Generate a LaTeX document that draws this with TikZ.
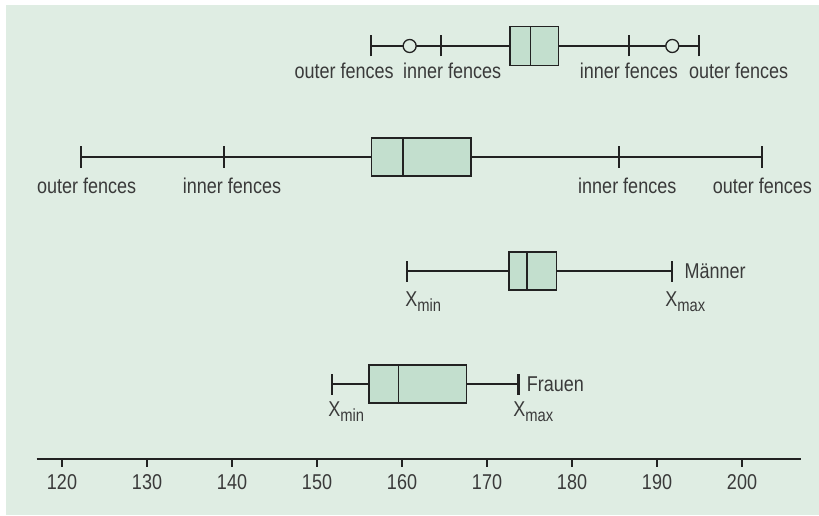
\documentclass[tikz,border=0pt]{standalone}
\usepackage{fontspec}
\setmainfont{Liberation Sans}[FakeStretch=0.84]
\definecolor{bg}{HTML}{DFEDE3}
\definecolor{boxfill}{HTML}{C3DFCE}
\definecolor{ink}{HTML}{222222}
\definecolor{txt}{HTML}{3A3A3A}
\newcommand{\lowidx}[1]{\raisebox{-2.6pt}{\fontsize{10}{12}\selectfont #1}}

\begin{document}
\begin{tikzpicture}[
		x=0.17cm, y=1cm,
		every node/.style={inner sep=0pt, text=txt, font=\fontsize{12.2}{14}\selectfont},
		whisker/.style={draw=ink, line width=1.1pt},
		fence/.style={draw=ink, line width=1.2pt},
		qbox/.style={draw=ink, line width=0.75pt, fill=boxfill},
		median/.style={draw=ink, line width=0.95pt},
		outlier/.style={circle, draw=ink, line width=0.75pt, fill=bg, minimum size=0.26cm}
	]
  \useasboundingbox (112.706,0) rectangle (209.06,10.3);
  \fill[bg] (113.41,0) rectangle (209.06,10.2);

  % outer and inner fences, upper sample
  \coordinate (a_of1) at (156.3,9.38);
  \coordinate (a_if1) at (164.6,9.38);
  \coordinate (a_q1) at (172.7,9.38);
  \coordinate (a_md) at (175.1,9.38);
  \coordinate (a_q3) at (178.4,9.38);
  \coordinate (a_if2) at (186.7,9.38);
  \coordinate (a_of2) at (194.9,9.38);
  \draw[whisker] (a_of1) -- (a_of2);
  \foreach \c in {a_of1,a_if1,a_if2,a_of2}
    \draw[fence] ([yshift=-0.21cm]\c) -- ([yshift=0.21cm]\c);
  \draw[qbox] ([yshift=-0.39cm]a_q1) rectangle ([yshift=0.39cm]a_q3);
  \draw[median] ([yshift=-0.39cm]a_md) -- ([yshift=0.39cm]a_md);
  \node (a_out1) [outlier] at (160.9,9.38) {};
  \node (a_out2) [outlier] at (191.8,9.38) {};
  \node (a_lab1) [anchor=base] at (153.2,8.73) {outer fences};
  \node (a_lab2) [anchor=base] at (165.9,8.73) {inner fences};
  \node (a_lab3) [anchor=base] at (186.7,8.73) {inner fences};
  \node (a_lab4) [anchor=base] at (199.6,8.73) {outer fences};

  % outer and inner fences, lower sample
  \coordinate (b_of1) at (122.2,7.16);
  \coordinate (b_if1) at (139.1,7.16);
  \coordinate (b_q1) at (156.4,7.16);
  \coordinate (b_md) at (160.1,7.16);
  \coordinate (b_q3) at (168.1,7.16);
  \coordinate (b_if2) at (185.5,7.16);
  \coordinate (b_of2) at (202.4,7.16);
  \draw[whisker] (b_of1) -- (b_of2);
  \foreach \c in {b_of1,b_if1,b_if2,b_of2}
    \draw[fence] ([yshift=-0.21cm]\c) -- ([yshift=0.21cm]\c);
  \draw[qbox] ([yshift=-0.38cm]b_q1) rectangle ([yshift=0.38cm]b_q3);
  \draw[median] ([yshift=-0.38cm]b_md) -- ([yshift=0.38cm]b_md);
  \node (b_lab1) [anchor=base] at (122.9,6.43) {outer fences};
  \node (b_lab2) [anchor=base] at (140.0,6.43) {inner fences};
  \node (b_lab3) [anchor=base] at (186.5,6.43) {inner fences};
  \node (b_lab4) [anchor=base] at (202.4,6.43) {outer fences};

  % Maenner
  \coordinate (m_min) at (160.6,4.88);
  \coordinate (m_q1) at (172.6,4.88);
  \coordinate (m_md) at (174.7,4.88);
  \coordinate (m_q3) at (178.2,4.88);
  \coordinate (m_max) at (191.8,4.88);
  \draw[whisker] (m_min) -- (m_max);
  \foreach \c in {m_min,m_max}
    \draw[fence] ([yshift=-0.21cm]\c) -- ([yshift=0.21cm]\c);
  \draw[qbox] ([yshift=-0.38cm]m_q1) rectangle ([yshift=0.38cm]m_q3);
  \draw[median] ([yshift=-0.38cm]m_md) -- ([yshift=0.38cm]m_md);
  \node (m_name) [anchor=west, xshift=0.24cm] at (m_max) {Männer};
  \node (m_xmin) [anchor=base west] at (160.35,4.166) {X\lowidx{min}};
  \node (m_xmax) [anchor=base west] at (190.94,4.166) {X\lowidx{max}};

  % Frauen
  \coordinate (f_min) at (151.8,2.62);
  \coordinate (f_q1) at (156.1,2.62);
  \coordinate (f_md) at (159.6,2.62);
  \coordinate (f_q3) at (167.6,2.62);
  \coordinate (f_max) at (173.7,2.62);
  \draw[whisker] (f_min) -- (f_max);
  \foreach \c in {f_min,f_max}
    \draw[fence] ([yshift=-0.21cm]\c) -- ([yshift=0.21cm]\c);
  \draw[qbox] ([yshift=-0.38cm]f_q1) rectangle ([yshift=0.38cm]f_q3);
  \draw[median] ([yshift=-0.38cm]f_md) -- ([yshift=0.38cm]f_md);
  \node (f_name) [anchor=west, xshift=0.16cm] at (f_max) {Frauen};
  \node (f_xmin) [anchor=base west] at (151.29,1.966) {X\lowidx{min}};
  \node (f_xmax) [anchor=base west] at (173.06,1.966) {X\lowidx{max}};

  % axis
  \coordinate (ax_l) at (117.02,1.12);
  \coordinate (ax_r) at (206.9,1.12);
  \draw[whisker] (ax_l) -- (ax_r);
  \foreach \v in {120,130,...,200} {
    \draw[whisker] (\v,1.12) -- (\v,0.965);
    \node (tick\v) [anchor=base] at (\v,0.514) {\v};
  }
\end{tikzpicture}
\end{document}
